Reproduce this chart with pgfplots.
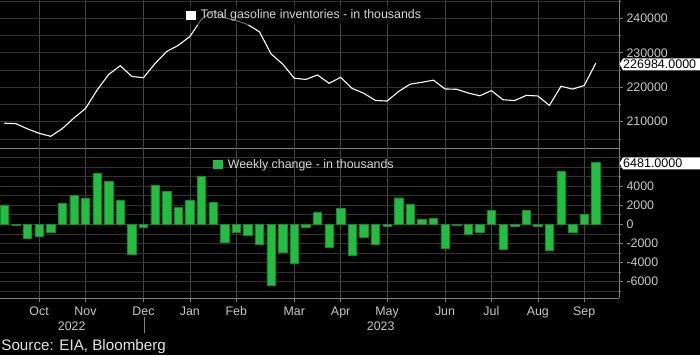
\documentclass[border=0pt]{standalone}
\usepackage{fontspec}
\setmainfont{Liberation Sans}
\usepackage{pgfplots}
\pgfplotsset{compat=1.18}
\definecolor{gridc}{HTML}{333333}
\definecolor{vgridc}{HTML}{444444}
\definecolor{axc}{HTML}{808080}
\definecolor{tickc}{HTML}{C8C8C8}
\definecolor{legc}{HTML}{D8D8D8}
\definecolor{barg}{HTML}{20BF40}
\definecolor{bard}{HTML}{158A2C}
\newcommand{\tf}{\fontsize{12.4bp}{14bp}\selectfont}
\pgfplotsset{
 base/.style={scale only axis, width=619bp, xmin=-0.37, xmax=53, anchor=south west,
   xtick={3,7,12,16,20,25,29,33,38,42,46,50},
   grid=both, grid style={gridc, line width=0.6pt},
   major grid style={gridc, line width=0.6pt}, minor grid style={gridc, line width=0.6pt},
   x grid style={vgridc, line width=0.6pt},
   axis x line*=bottom, axis y line*=right, axis line style={axc, line width=0.8pt},
   yticklabel pos=right, tick align=outside, major tick length=4bp, minor tick length=2bp,
   tick style={axc, line width=0.6pt},
   ticklabel style={font=\tf, text=tickc},
   scaled y ticks=false,
   /pgf/number format/fixed, /pgf/number format/1000 sep={}, /pgf/number format/assume math mode=true,
 }
}
\begin{document}
\begin{tikzpicture}
\fill[black] (0bp,0bp) rectangle (700bp,355bp);
\useasboundingbox (0bp,0bp) rectangle (700bp,355bp);
\begin{axis}[base, at={(0bp,206.5bp)}, height=148.5bp, ymin=202224, ymax=245310,
  ytick={210000,220000,230000,240000}, minor ytick={205000,215000,225000,235000,245000},
  xticklabels={}, xtick style={draw=none}]
\addplot[white, line width=1.1pt] table[x=i,y=v] {
i v
0 209563
1 209423
2 207923
3 206633
4 205763
5 207993
6 211063
7 213823
8 219163
9 223703
10 226253
11 223113
12 222763
13 226883
14 230373
15 232153
16 234703
17 239733
18 242073
19 240193
20 239323
21 238173
22 236083
23 229663
24 226733
25 222613
26 222263
27 223553
28 221143
29 222853
30 219643
31 218243
32 216153
33 215983
34 218773
35 220903
36 221423
37 222053
38 219503
39 219403
40 218323
41 217523
42 219023
43 216373
44 216133
45 217633
46 217463
47 214743
48 220293
49 219453
50 220503
51 226984
};
\end{axis}
\begin{axis}[base, at={(0bp,56.7bp)}, height=149.8bp, ymin=-7762, ymax=7957,
  ytick={-6000,-4000,-2000,0,2000,4000,6000},
  yticklabels={-6000,-4000,-2000,0,2000,4000,{}},
  minor ytick={-7000,-5000,-3000,-1000,1000,3000,5000,7000},
  xticklabels={Oct,Nov,Dec,Jan,Feb,Mar,Apr,May,Jun,Jul,Aug,Sep},
  xtick style={axc}, x tick label style={yshift=-1bp}]
\addplot[ybar, bar width=0.72, fill=barg, draw=bard, line width=0.4pt] table[x=i,y=c] {
i c
0 2000
1 -140
2 -1500
3 -1290
4 -870
5 2230
6 3070
7 2760
8 5340
9 4540
10 2550
11 -3140
12 -350
13 4120
14 3490
15 1780
16 2550
17 5030
18 2340
19 -1880
20 -870
21 -1150
22 -2090
23 -6420
24 -2930
25 -4120
26 -350
27 1290
28 -2410
29 1710
30 -3210
31 -1400
32 -2090
33 -170
34 2790
35 2130
36 520
37 630
38 -2550
39 -100
40 -1080
41 -800
42 1500
43 -2650
44 -240
45 1500
46 -170
47 -2720
48 5550
49 -840
50 1050
51 6481
};
\end{axis}
% legends
\fill[black, opacity=0.6] (184bp,350bp) rectangle (425bp,330bp);
\fill[white] (186bp,344bp) rectangle (196bp,335bp);
\node[anchor=west, inner sep=0, text=legc, font=\tf] at (200.3bp,339.8bp) {Total gasoline inventories - in thousands};
\fill[barg] (213.3bp,195bp) rectangle (222.7bp,185.7bp);
\node[anchor=west, inner sep=0, text=legc, font=\tf] at (227.6bp,190.2bp) {Weekly change - in thousands};
% last value labels
\fill[white] (619.5bp,291bp) -- (623bp,296.5bp) -- (700bp,296.5bp) -- (700bp,284.5bp) -- (623bp,284.5bp) -- cycle;
\node[anchor=west, inner sep=0, text=black, font=\fontsize{12.5bp}{14bp}\selectfont] at (623bp,290.6bp) {226984.0000};
\fill[white] (619.5bp,191.7bp) -- (623bp,197.7bp) -- (700bp,197.7bp) -- (700bp,185.7bp) -- (623bp,185.7bp) -- cycle;
\node[anchor=west, inner sep=0, text=black, font=\fontsize{12.5bp}{14bp}\selectfont] at (623bp,191.5bp) {6481.0000};
% years and source
\node[text=tickc, font=\tf, inner sep=0] at (71.7bp,29bp) {2022};
\node[text=tickc, font=\tf, inner sep=0] at (380.7bp,29bp) {2023};
\draw[axc, line width=0.6pt] (144.3bp,38bp) -- (144.3bp,22bp);
\node[anchor=west, inner sep=0, text=white!90!black, font=\fontsize{15.2bp}{17bp}\selectfont] at (1.2bp,8.3bp) {Source: EIA, Bloomberg};
\end{tikzpicture}
\end{document}
